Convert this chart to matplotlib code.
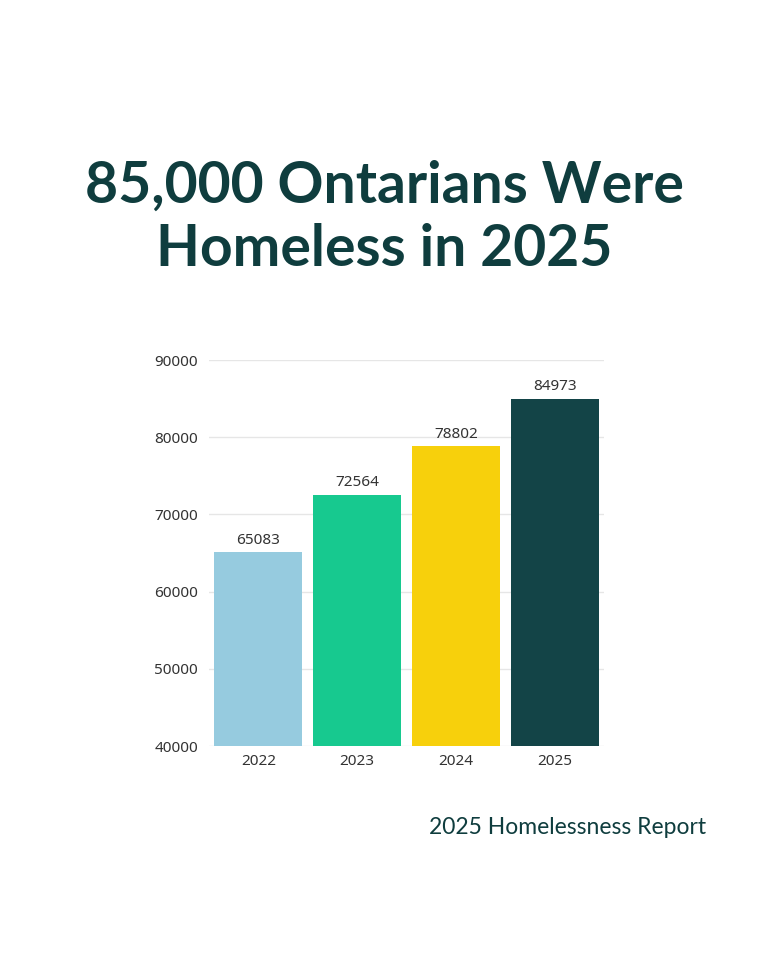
import matplotlib.pyplot as plt

years = ['2022', '2023', '2024', '2025']
homeless = [65083, 72564, 78802, 84973]
colors = ['#96cbdf', '#17c98f', '#f7d00c', '#134447']
yticks = [40000, 50000, 60000, 70000, 80000, 90000]

fig = plt.figure(figsize=(7.68, 9.6), dpi=100)
fig.patch.set_facecolor('white')

fig.text(0.5, 1 - 218 / 960, '85,000 Ontarians Were\nHomeless in 2025', ha='center', va='center',
         fontsize=41, fontweight='bold', color='#0f3d3e', family='Lato', linespacing=1.25)

ax = fig.add_axes([209 / 768, 1 - 746 / 960, 395 / 768, 386 / 960])
x = range(len(years))
bars = ax.bar(x, homeless, width=0.89, color=colors, zorder=2)
for b, v in zip(bars, homeless):
    ax.text(b.get_x() + b.get_width() / 2, v + 600, str(v), ha='center', va='bottom',
            fontsize=11, color='#333333', family='Noto Sans')

ax.set_xlim(-0.5, 3.5)
ax.set_ylim(40000, 90000)
ax.set_yticks(yticks)
ax.set_xticks(list(x))
ax.set_xticklabels(years)
ax.grid(axis='y', color='#e6e6e6', linewidth=1, zorder=0)
for s in ax.spines.values():
    s.set_visible(False)
ax.tick_params(length=0, labelsize=11, labelcolor='#333333', pad=6)
ax.tick_params(axis='y', pad=8)
for lab in ax.get_xticklabels() + ax.get_yticklabels():
    lab.set_family('Noto Sans')

fig.text(706 / 768, 1 - 828 / 960, '2025 Homelessness Report', ha='right', va='center',
         fontsize=16.5, color='#0f3d3e', family='Lato')

fig.savefig('out.png', dpi=100)
